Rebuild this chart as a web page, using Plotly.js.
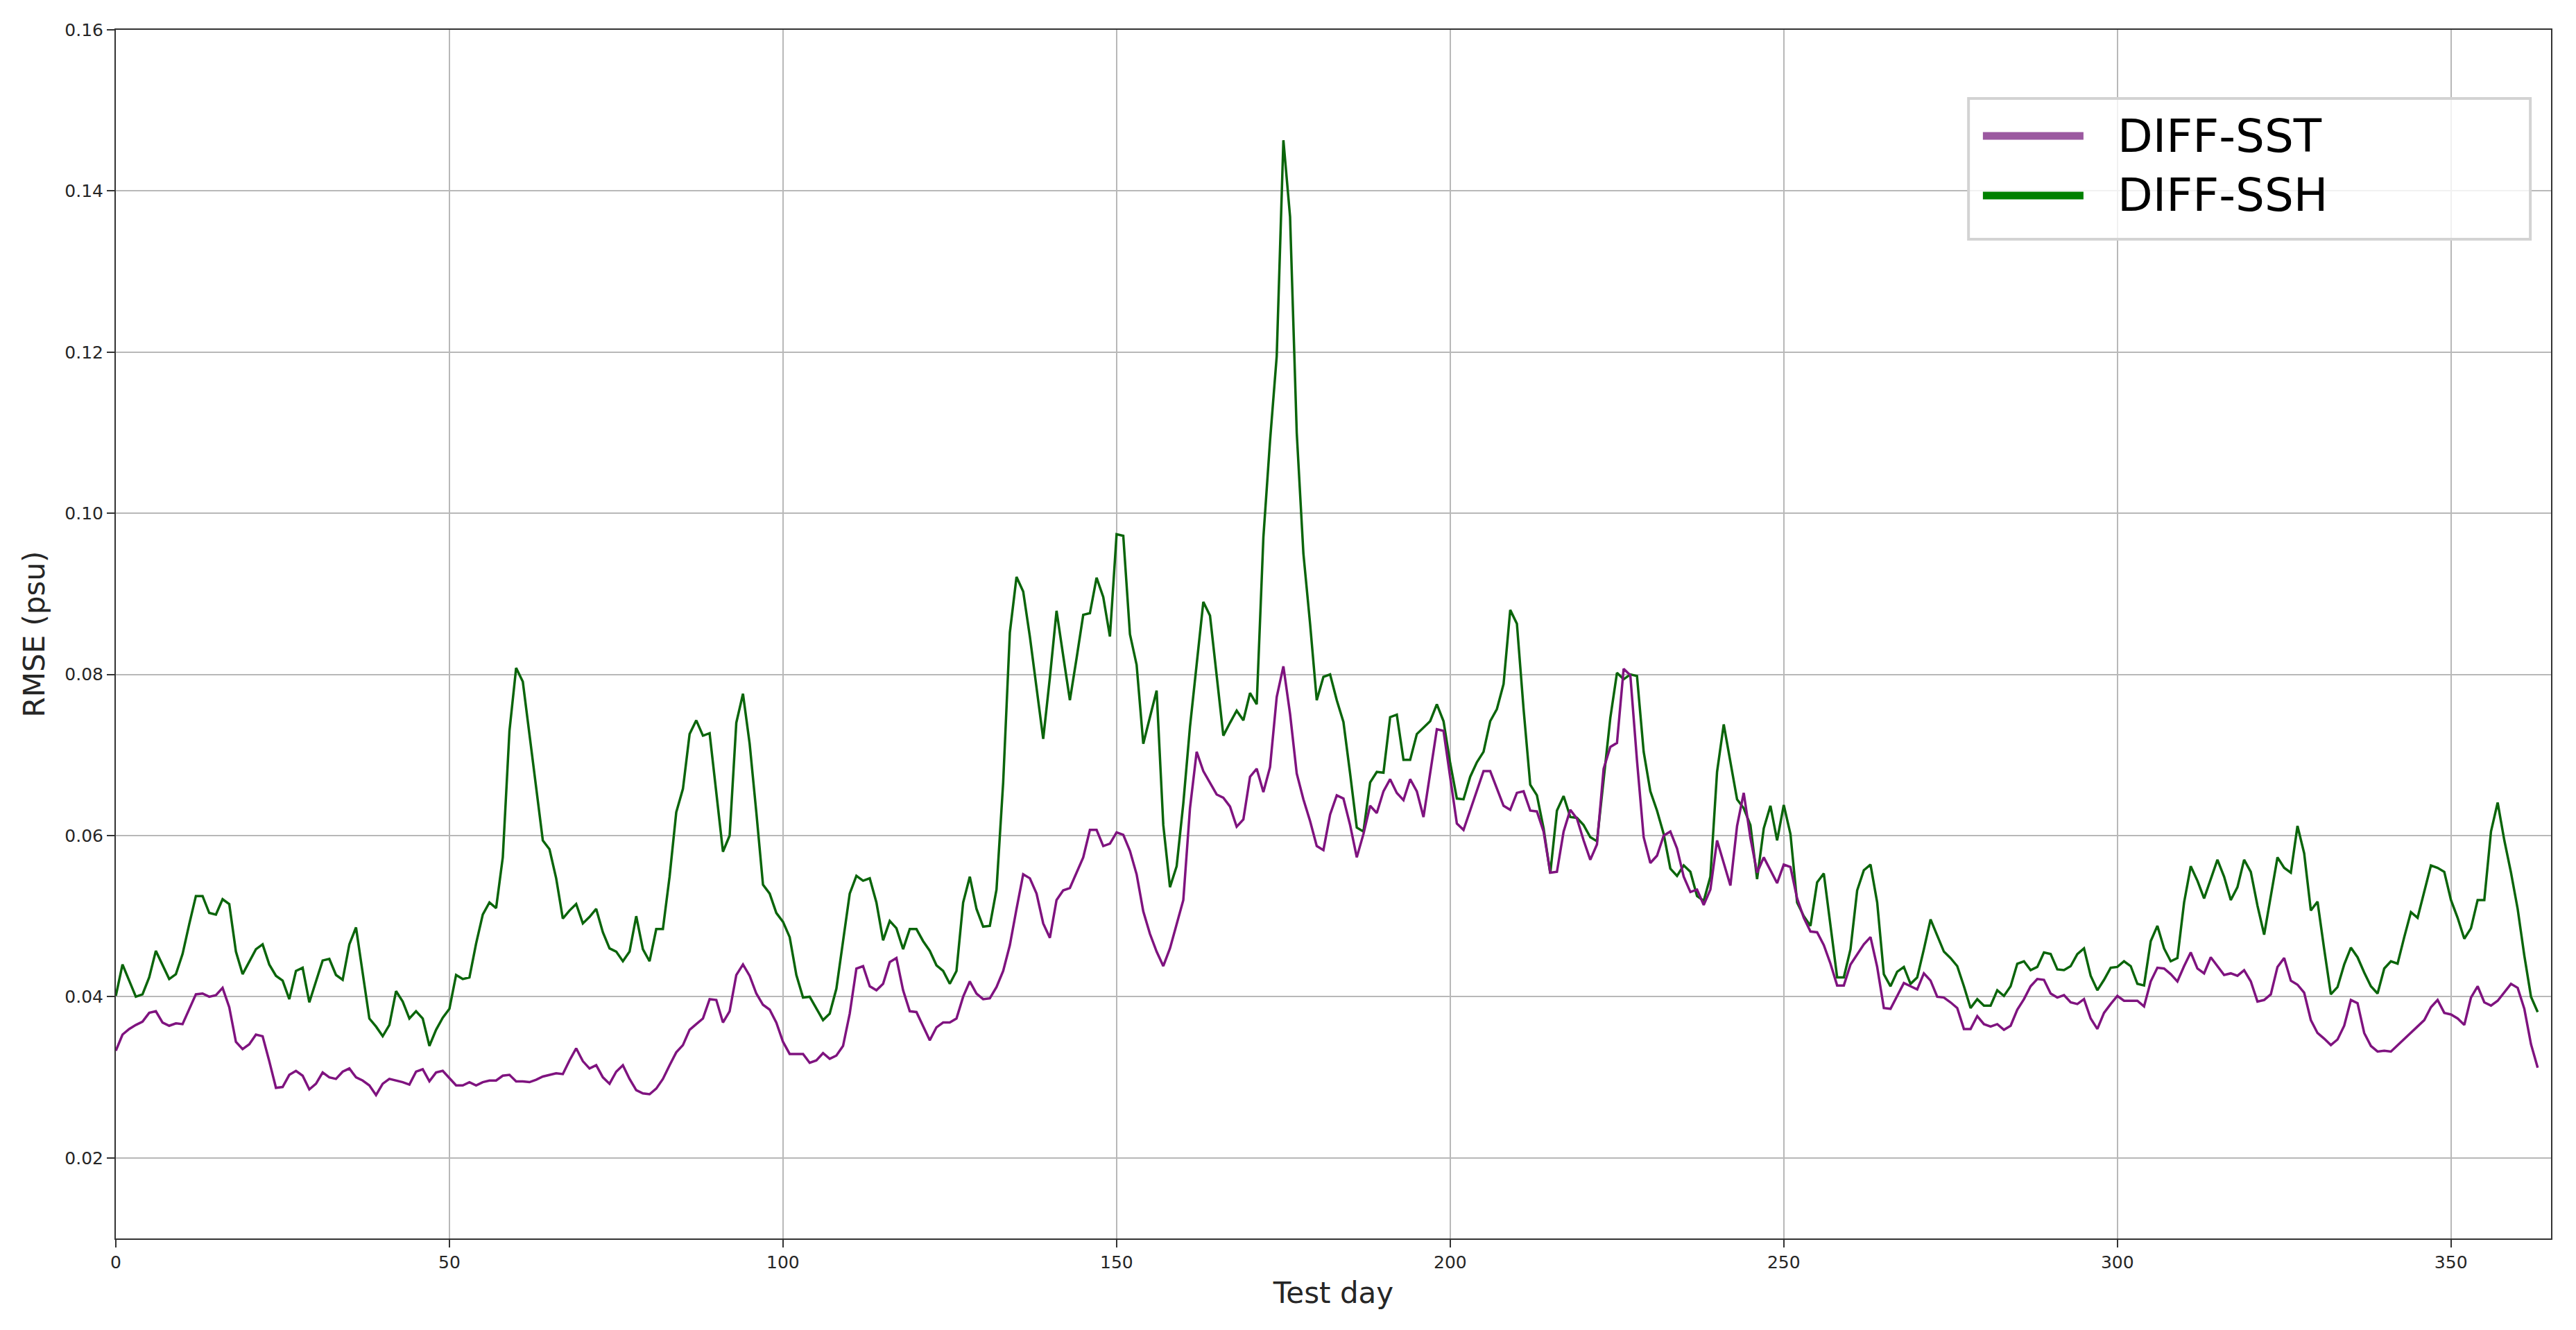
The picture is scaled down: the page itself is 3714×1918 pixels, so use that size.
<!DOCTYPE html>
<html>
<head>
<meta charset="utf-8">
<script src="https://cdn.plot.ly/plotly-3.0.1.min.js"></script>
<style>
  html, body { margin: 0; padding: 0; background: #fff; }
  #chart { width: 3714px; height: 1918px; }
</style>
</head>
<body>
<div id="chart"></div>
<script>
// RMSE per test day
const sst = [
  0.0333,0.0353,0.036,0.0365,0.0369,0.038,0.0382,0.0368,0.0364,0.0367,
  0.0366,0.0384,0.0403,0.0404,0.040,0.0402,0.0411,0.0387,0.0344,0.0335,
  0.0341,0.0353,0.0351,0.032,0.0287,0.0288,0.0303,0.0308,0.0302,0.0285,
  0.0292,0.0306,0.030,0.0298,0.0307,0.0311,0.030,0.0296,0.029,0.0278,
  0.0292,0.0298,0.0296,0.0294,0.0291,0.0307,0.031,0.0295,0.0306,0.0308,
  0.0299,0.029,0.029,0.0294,0.029,0.0294,0.0296,0.0296,0.0302,0.0303,
  0.0295,0.0295,0.0294,0.0297,0.0301,0.0303,0.0305,0.0304,0.0321,0.0336,
  0.032,0.0311,0.0315,0.030,0.0292,0.0307,0.0315,0.0298,0.0284,0.028,
  0.0279,0.0286,0.0298,0.0315,0.0331,0.034,0.0359,0.0366,0.0373,0.0397,
  0.0396,0.0368,0.0382,0.0427,0.044,0.0426,0.0404,0.039,0.0384,0.0368,
  0.0344,0.0329,0.0329,0.0329,0.0318,0.0321,0.033,0.0323,0.0327,0.0339,
  0.0379,0.0435,0.0438,0.0413,0.0408,0.0416,0.0443,0.0448,0.0408,0.0382,
  0.0381,0.0363,0.0346,0.0362,0.0368,0.0368,0.0373,0.040,0.0419,0.0404,
  0.0397,0.0398,0.0412,0.0432,0.0464,0.0509,0.0552,0.0547,0.0528,0.0491,
  0.0473,0.052,0.0532,0.0535,0.0554,0.0573,0.0607,0.0607,0.0587,0.059,
  0.0604,0.0601,0.0581,0.0552,0.0506,0.0478,0.0456,0.0438,0.046,0.049,
  0.052,0.0634,0.0704,0.068,0.0666,0.0651,0.0647,0.0636,0.0611,0.062,
  0.0673,0.0683,0.0654,0.0685,0.0772,0.081,0.0751,0.0677,0.0645,0.0618,
  0.0587,0.0582,0.0626,0.065,0.0646,0.0613,0.0573,0.0602,0.0637,0.0628,
  0.0655,0.067,0.0653,0.0644,0.067,0.0655,0.0623,0.0678,0.0732,0.073,
  0.0671,0.0615,0.0607,0.0632,0.0656,0.068,0.068,0.0658,0.0637,0.0632,
  0.0653,0.0655,0.0631,0.063,0.0605,0.0554,0.0555,0.0605,0.0632,0.0621,
  0.0594,0.057,0.0589,0.0683,0.071,0.0715,0.0807,0.0799,0.0693,0.0598,
  0.0566,0.0575,0.06,0.0605,0.0584,0.0549,0.053,0.0533,0.0514,0.0533,
  0.0594,0.0566,0.0538,0.0612,0.0653,0.0597,0.0554,0.0573,0.0557,0.0541,
  0.0564,0.0561,0.0522,0.0498,0.0481,0.048,0.0464,0.0441,0.0414,0.0414,
  0.044,0.0452,0.0465,0.0474,0.0437,0.0386,0.0385,0.0401,0.0417,0.0413,
  0.0409,0.0429,0.042,0.040,0.0399,0.0393,0.0386,0.036,0.036,0.0376,
  0.0366,0.0363,0.0366,0.0359,0.0364,0.0384,0.0397,0.0413,0.0422,0.0421,
  0.0404,0.0399,0.0402,0.0393,0.0391,0.0397,0.0373,0.036,0.038,0.0391,
  0.0401,0.0395,0.0395,0.0395,0.0388,0.0419,0.0436,0.0435,0.0428,0.0419,
  0.0438,0.0455,0.0435,0.0429,0.0449,0.0438,0.0427,0.0429,0.0426,0.0433,
  0.0419,0.0394,0.0396,0.0403,0.0437,0.0448,0.042,0.0415,0.0405,0.0371,
  0.0355,0.0348,0.034,0.0347,0.0364,0.0396,0.0392,0.0355,0.0339,0.0332,
  0.0333,0.0332,0.034,0.0348,0.0355,0.0364,0.0371,0.0387,0.0396,0.038,
  0.0378,0.0373,0.0365,0.0399,0.0413,0.0393,0.0389,0.0395,0.0405,0.0416,
  0.0411,0.0385,0.0341,0.0312
];

const ssh = [
  0.0401,0.044,0.042,0.040,0.0403,0.0424,0.0457,0.0439,0.0422,0.0428,
  0.0453,0.049,0.0525,0.0525,0.0504,0.0502,0.0521,0.0515,0.0456,0.0428,
  0.0444,0.0459,0.0465,0.044,0.0426,0.042,0.0397,0.0432,0.0436,0.0393,
  0.0419,0.0445,0.0447,0.0427,0.0421,0.0465,0.0486,0.0429,0.0373,0.0363,
  0.0351,0.0365,0.0407,0.0394,0.0373,0.0382,0.0373,0.0339,0.0359,0.0374,
  0.0385,0.0427,0.0422,0.0424,0.0466,0.0502,0.0517,0.051,0.0573,0.073,
  0.0808,0.0791,0.0725,0.0655,0.0594,0.0583,0.0547,0.0497,0.0507,0.0515,
  0.0491,0.0499,0.0509,0.048,0.046,0.0456,0.0444,0.0456,0.050,0.0459,
  0.0444,0.0484,0.0484,0.0549,0.0629,0.0658,0.0726,0.0743,0.0724,0.0727,
  0.0655,0.058,0.060,0.074,0.0776,0.0714,0.0629,0.0539,0.0528,0.0504,
  0.0493,0.0474,0.0427,0.0399,0.040,0.0385,0.0371,0.0379,0.041,0.0469,
  0.0528,0.055,0.0544,0.0547,0.0517,0.047,0.0494,0.0485,0.0459,0.0484,
  0.0484,0.0469,0.0457,0.0439,0.0432,0.0416,0.0432,0.0517,0.0549,0.0509,
  0.0487,0.0488,0.0533,0.0666,0.0852,0.0921,0.0903,0.0847,0.0783,0.072,
  0.0796,0.0879,0.0823,0.0768,0.082,0.0874,0.0876,0.092,0.0896,0.0847,
  0.0974,0.0972,0.085,0.0812,0.0714,0.0748,0.078,0.0613,0.0536,0.0562,
  0.064,0.0735,0.0815,0.089,0.0873,0.080,0.0724,0.074,0.0755,0.0743,
  0.0777,0.0763,0.097,0.109,0.1195,0.1463,0.1368,0.110,0.095,0.0863,
  0.0768,0.0797,0.080,0.0768,0.0741,0.0677,0.061,0.0605,0.0666,0.0679,
  0.0678,0.0747,0.075,0.0694,0.0694,0.0726,0.0734,0.0742,0.0763,0.0742,
  0.069,0.0646,0.0645,0.0673,0.0691,0.0704,0.0742,0.0757,0.0788,0.088,
  0.0863,0.0757,0.0663,0.065,0.0609,0.0553,0.0631,0.0649,0.0623,0.0622,
  0.0613,0.0598,0.0593,0.0669,0.0746,0.0802,0.0794,0.080,0.0798,0.0704,
  0.0655,0.0631,0.0602,0.0559,0.055,0.0563,0.0555,0.0525,0.0519,0.0549,
  0.0679,0.0738,0.0693,0.0645,0.0634,0.0613,0.0546,0.0609,0.0637,0.0594,
  0.0638,0.0602,0.0517,0.050,0.0488,0.0542,0.0553,0.0488,0.0424,0.0424,
  0.0459,0.0532,0.0557,0.0564,0.0517,0.0428,0.0413,0.0431,0.0437,0.0416,
  0.0424,0.0459,0.0496,0.0476,0.0456,0.0448,0.0438,0.0413,0.0386,0.0397,
  0.0389,0.0389,0.0408,0.0401,0.0413,0.0441,0.0444,0.0433,0.0437,0.0455,
  0.0453,0.0434,0.0433,0.0438,0.0453,0.046,0.0426,0.0408,0.0421,0.0436,
  0.0437,0.0444,0.0438,0.0416,0.0414,0.0469,0.0488,0.046,0.0444,0.0448,
  0.0517,0.0562,0.0544,0.0522,0.0546,0.057,0.0549,0.052,0.0536,0.057,
  0.0555,0.0513,0.0477,0.0525,0.0573,0.056,0.0554,0.0612,0.0578,0.0507,
  0.0518,0.0459,0.0403,0.0412,0.044,0.0461,0.0449,0.043,0.0413,0.0404,
  0.0435,0.0444,0.0441,0.0474,0.0505,0.0498,0.053,0.0563,0.056,0.0555,
  0.052,0.0498,0.0472,0.0485,0.052,0.052,0.0605,0.0641,0.0594,0.0554,
  0.0509,0.0451,0.040,0.0381
];

const days = sst.map((_, i) => i);
const xTicks = [0, 50, 100, 150, 200, 250, 300, 350];
const yTicks = [0.02, 0.04, 0.06, 0.08, 0.10, 0.12, 0.14, 0.16];
const seriesNames = ["DIFF-SST", "DIFF-SSH"];

const font = "DejaVu Sans, Liberation Sans, sans-serif";

const traces = [
    {
        x: days, y: ssh, name: seriesNames[1],
        type: "scatter", mode: "lines",
        line: { color: "#0b650b", width: 3.5 },
        showlegend: false
    },
    {
        x: days, y: sst, name: seriesNames[0],
        type: "scatter", mode: "lines",
        line: { color: "#7f137f", width: 3.5 },
        showlegend: false
    }
];

const axisCommon = {
    showline: true, linecolor: "#333333", linewidth: 2, mirror: true,
    showgrid: true, gridcolor: "#b8b8b8", gridwidth: 2,
    zeroline: false,
    ticks: "outside", ticklen: 11, tickwidth: 2, tickcolor: "#333333",
    tickfont: { family: font, size: 25, color: "#262626" }
};

// legend drawn by hand so the handles can be long and thick like the original
const legendShapes = [
    {
        type: "rect", xref: "paper", yref: "paper",
        x0: 0.7608, x1: 0.9915, y0: 0.8267, y1: 0.9432,
        line: { color: "#d3d3d3", width: 4 },
        fillcolor: "rgba(255,255,255,0.8)", layer: "above"
    },
    {
        type: "line", xref: "paper", yref: "paper",
        x0: 0.7667, x1: 0.8080, y0: 0.9122, y1: 0.9122,
        line: { color: "#9b59a0", width: 11 }, layer: "above"
    },
    {
        type: "line", xref: "paper", yref: "paper",
        x0: 0.7667, x1: 0.8080, y0: 0.8629, y1: 0.8629,
        line: { color: "#008000", width: 11 }, layer: "above"
    }
];

const legendLabels = [
    { text: seriesNames[0], y: 0.9122 },
    { text: seriesNames[1], y: 0.8629 }
].map(item => ({
    text: item.text, xref: "paper", yref: "paper",
    x: 0.8215, y: item.y, xanchor: "left", yanchor: "middle",
    showarrow: false,
    font: { family: font, size: 66, color: "#000000" }
}));

const layout = {
    width: 3714, height: 1918,
    margin: { l: 167, r: 36, t: 43, b: 132 },
    paper_bgcolor: "#ffffff", plot_bgcolor: "#ffffff",
    font: { family: font, color: "#262626" },
    showlegend: false,
    xaxis: Object.assign({}, axisCommon, {
        range: [0, 365],
        tickvals: xTicks,
        title: { text: "Test day", font: { family: font, size: 42, color: "#262626" }, standoff: 16 }
    }),
    yaxis: Object.assign({}, axisCommon, {
        range: [0.01, 0.16],
        tickvals: yTicks,
        tickformat: ".2f",
        title: { text: "RMSE (psu)", font: { family: font, size: 42, color: "#262626" }, standoff: 16 }
    }),
    shapes: legendShapes,
    annotations: legendLabels
};

Plotly.newPlot("chart", traces, layout, { displayModeBar: false, staticPlot: true });
</script>
</body>
</html>
